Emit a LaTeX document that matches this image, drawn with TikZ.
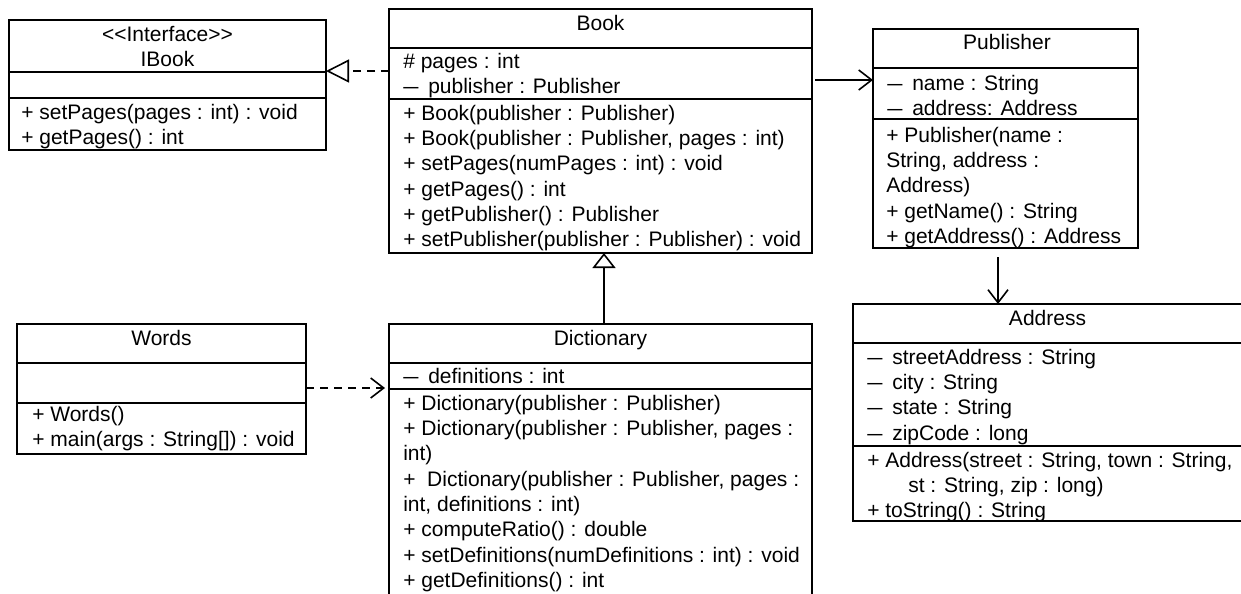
\documentclass[tikz,border=0pt]{standalone}
\usepackage{fontspec}
\usepackage{graphicx}
\setmainfont{Liberation Sans}
\usetikzlibrary{arrows.meta}

% private member marker: stretched dash with a wide gap
\newcommand{\priv}{\makebox[18.75pt][l]{\scalebox{1.3}[1]{–}}}

\tikzset{
  classbox/.style={draw, line width=0.8pt, anchor=north west, inner sep=0pt, outer sep=0pt},
  classname/.style={anchor=north, inner sep=0pt, align=center, font=\fontsize{15.75}{19}\selectfont},
  member/.style={anchor=north west, inner sep=0pt, align=left, font=\fontsize{15.75}{19}\selectfont},
  sep/.style={line width=0.8pt},
  assoc/.style={line width=1.2pt, -{Straight Barb[length=9.75pt,width=15pt,line width=1.2pt]}},
  depend/.style={assoc, dash pattern=on 6pt off 4.5pt},
  realize/.style={line width=1.2pt, dash pattern=on 6pt off 4.5pt, -{Triangle[open,length=17.25pt,width=17.25pt,line width=1.2pt]}},
  inherit/.style={line width=1.2pt, -{Triangle[open,length=11.25pt,width=17.25pt,line width=1.2pt]}},
}

\begin{document}
\begin{tikzpicture}[x=0.75pt,y=0.75pt,yscale=-1,xscale=1]
\useasboundingbox (0,0) rectangle (1241,593);
\clip (0,0) rectangle (1241,593);

%Shape: Class boxes
\node (ibook) [classbox, minimum width=237.75pt, minimum height=97.5pt] at (9,20) {};
\node (book) [classbox, minimum width=317.25pt, minimum height=183pt] at (389,9) {};
\node (publisher) [classbox, minimum width=198.75pt, minimum height=164.25pt] at (873,29) {};
\node (address) [classbox, minimum width=292.5pt, minimum height=162.75pt] at (853,304) {};
\node (words) [classbox, minimum width=216.75pt, minimum height=97.5pt] at (17,324) {};
\node (dictionary) [classbox, minimum width=317.25pt, minimum height=210pt] at (389,324) {};

%Straight Lines: compartments
\draw [sep] (ibook.west |- 0,72) -- (ibook.east |- 0,72) ;
\draw [sep] (ibook.west |- 0,98) -- (ibook.east |- 0,98) ;
\draw [sep] (book.west |- 0,48) -- (book.east |- 0,48) ;
\draw [sep] (book.west |- 0,99) -- (book.east |- 0,99) ;
\draw [sep] (publisher.west |- 0,68) -- (publisher.east |- 0,68) ;
\draw [sep] (publisher.west |- 0,119) -- (publisher.east |- 0,119) ;
\draw [sep] (address.west |- 0,343) -- (address.east |- 0,343) ;
\draw [sep] (address.west |- 0,446) -- (address.east |- 0,446) ;
\draw [sep] (words.west |- 0,363) -- (words.east |- 0,363) ;
\draw [sep] (words.west |- 0,403) -- (words.east |- 0,403) ;
\draw [sep] (dictionary.west |- 0,363) -- (dictionary.east |- 0,363) ;
\draw [sep] (dictionary.west |- 0,389) -- (dictionary.east |- 0,389) ;

% Text Node: IBook
\node (ibook-name) [classname] at (167.5,23.3) {\strut<{}<Interface>{}>\\IBook};
\node (ibook-ops) [member] at (21,101.3) {\strut+ setPages(pages : int) : void\\+ getPages() : int};

% Text Node: Book
\node (book-name) [classname] at (600.5,12.3) {\strut Book};
\node (book-attr) [member] at (403,50.3) {\strut\# pages : int\\\priv publisher : Publisher};
\node (book-ops) [member] at (403,102.3) {\strut+ Book(publisher : Publisher)\\
  + Book(publisher : Publisher, pages : int)\\
  + setPages(numPages : int) : void\\
  + getPages() : int\\
  + getPublisher() : Publisher\\
  + setPublisher(publisher : Publisher) : void};

% Text Node: Publisher
\node (publisher-name) [classname] at (1007,31.3) {\strut Publisher};
\node (publisher-attr) [member] at (887,72.3) {\strut\priv name : String\\\priv address: Address};
\node (publisher-ops) [member] at (886,124.3) {\strut+ Publisher(name :\\
  String, address :\\
  Address)\\
  + getName() : String\\
  + getAddress() : Address};

% Text Node: Address
\node (address-name) [classname] at (1047.5,307.3) {\strut Address};
\node (address-attr) [member] at (867,346.3) {\strut\priv streetAddress : String\\
  \priv city : String\\
  \priv state : String\\
  \priv zipCode : long};
\node (address-ops) [member] at (867,449.3) {\strut+ Address(street : String, town : String,\\
  \hspace*{30.75pt}st : String, zip : long)\\
  + toString() : String};

% Text Node: Words
\node (words-name) [classname] at (161.5,327.3) {\strut Words};
\node (words-ops) [member] at (32,403.3) {\strut+ Words()\\+ main(args : String[]) : void};

% Text Node: Dictionary
\node (dictionary-name) [classname] at (600.5,327.3) {\strut Dictionary};
\node (dictionary-attr) [member] at (403,365.3) {\strut\priv definitions : int};
\node (dictionary-ops) [member] at (403,392.3) {\strut+ Dictionary(publisher : Publisher)\\
  + Dictionary(publisher : Publisher, pages :\\
  int)\\
  +\ \ Dictionary(publisher : Publisher, pages :\\
  int, definitions : int)\\
  + computeRatio() : double\\
  + setDefinitions(numDefinitions : int) : void\\
  + getDefinitions() : int};

%Connectors
\draw [realize] (book.west |- 0,71) -- (ibook.east |- 0,71) ;
\draw [assoc, shorten <=2.25pt] (book.east |- 0,80) -- (publisher.west |- 0,80) ;
\draw [assoc, shorten <=6.75pt] (publisher.south -| 998,0) -- (address.north -| 998,0) ;
\draw [depend, shorten >=3pt] (words.east |- 0,388) -- (dictionary.west |- 0,388) ;
\draw [inherit] (dictionary.north -| 604,0) -- (book.south -| 604,0) ;

\end{tikzpicture}
\end{document}
